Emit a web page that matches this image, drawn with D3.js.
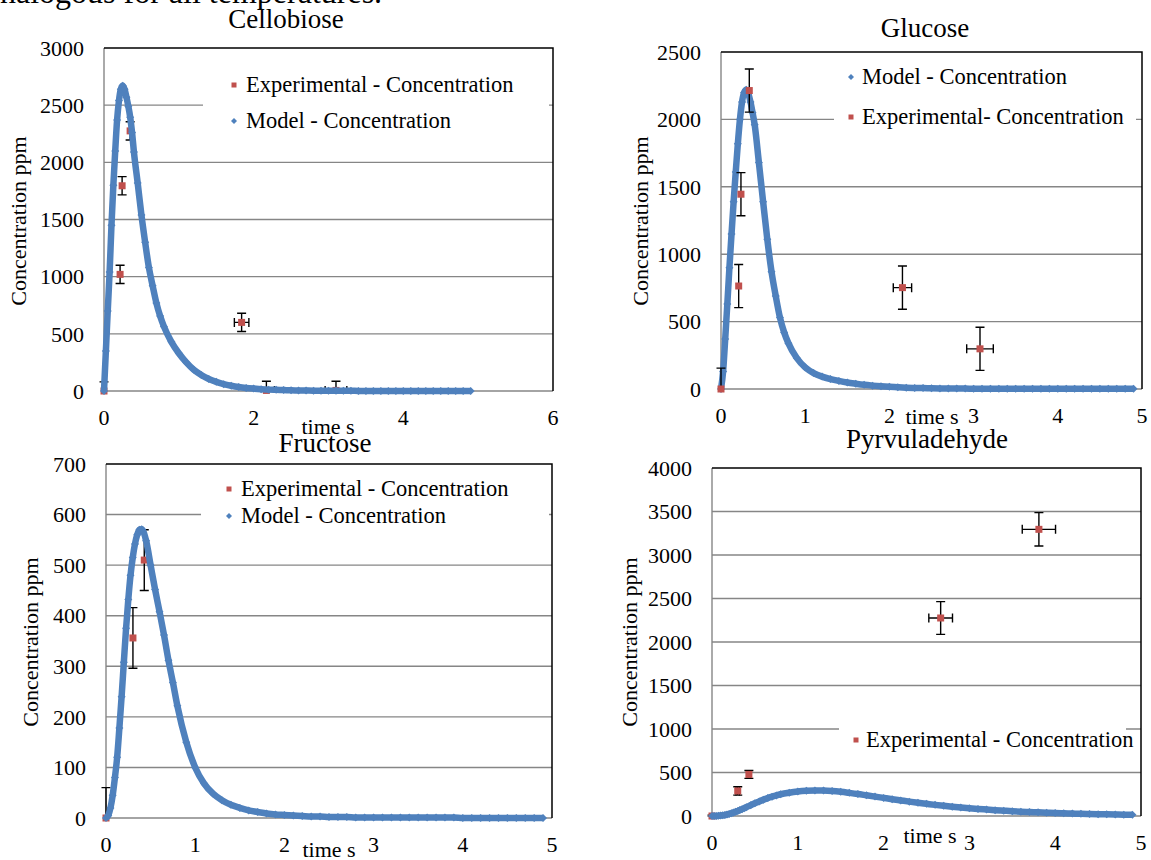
<!DOCTYPE html>
<html>
<head>
<meta charset="utf-8">
<script src="https://cdn.jsdelivr.net/npm/d3@7"></script>
<style>
  body { margin: 0; background: #fff; }
  svg { display: block; font-family: "Liberation Serif", "DejaVu Serif", "Times New Roman", serif; }
</style>
</head>
<body>
<svg width="1151" height="860"></svg>
<script>
// model output time grid (s), shared by all four species
const modelTime = [0, 0.025, 0.05, 0.075, 0.1, 0.125, 0.15, 0.175, 0.2, 0.225, 0.25, 0.275, 0.3, 0.325, 0.35, 0.375, 0.4,
  0.45, 0.5, 0.55, 0.6, 0.65, 0.7, 0.75, 0.8,
  0.9, 1.0, 1.1, 1.2, 1.3, 1.4, 1.5, 1.6, 1.7, 1.8, 1.9, 2.0, 2.1, 2.2, 2.3, 2.4, 2.5, 2.6, 2.7, 2.8, 2.9,
  3.0, 3.1, 3.2, 3.3, 3.4, 3.5, 3.6, 3.7, 3.8, 3.9, 4.0, 4.1, 4.2, 4.3, 4.4, 4.5, 4.6, 4.7, 4.8, 4.9];

const cellobioseModel = [0, 350, 700, 1040, 1450, 1800, 2100, 2370, 2540, 2640, 2670, 2640, 2570, 2490, 2395, 2260, 2090,
  1820, 1540, 1300, 1080, 920, 770, 655, 565,
  430, 330, 250, 185, 140, 105, 80, 60, 46, 35, 27, 21, 16, 12, 10, 8, 6, 5, 4, 3, 3,
  2, 2, 2, 2, 1, 1, 1, 1, 1, 1, 1, 1, 1, 1, 1, 1, 1, 1, 0, 0];
const glucoseModel = [0, 130, 370, 630, 900, 1150, 1390, 1610, 1820, 2000, 2130, 2200, 2220, 2190, 2130, 2050, 1960,
  1680, 1390, 1110, 870, 690, 530, 420, 340,
  230, 160, 118, 92, 74, 60, 48, 39, 31, 25, 20, 16, 13, 10, 8, 7, 5, 4, 4, 3, 3,
  2, 2, 2, 2, 1, 1, 1, 1, 1, 1, 1, 1, 1, 1, 1, 1, 1, 1, 1, 1];
const fructoseModel = [0, 5, 20, 45, 80, 120, 178, 240, 308, 375, 432, 480, 515, 542, 560, 570, 571,
  548, 500, 452, 408, 362, 312, 268, 222,
  150, 100, 68, 48, 35, 26, 20, 15, 12, 9, 7, 6, 5, 4, 3, 3, 2, 2, 2, 1, 1,
  1, 1, 1, 1, 1, 1, 1, 1, 1, 1, 0, 0, 0, 0, 0, 0, 0, 0, 0, 0];
const pyruvaldehydeModel = [0, 0, 1, 2, 5, 8, 12, 17, 24, 31, 39, 48, 58, 68, 79, 90, 101,
  124, 147, 168, 188, 206, 222, 237, 250,
  268, 281, 289, 293, 292, 287, 278, 266, 253, 238, 223, 208, 193, 179, 165, 152, 140, 128, 117, 107, 98,
  89, 81, 74, 67, 61, 55, 50, 46, 42, 38, 34, 31, 28, 25, 23, 21, 19, 17, 15, 14];

// experimental points with error bars
const cellobioseExpTime = [0, 0.215, 0.242, 0.349, 1.839, 2.17, 3.10];
const cellobioseExpConc = [0, 1020, 1795, 2275, 600, 5, 5];
const cellobioseExpTimeErr = [0, 0, 0, 0, 0.097, 0.107, 0.145];
const cellobioseExpConcErr = [80, 80, 80, 80, 80, 80, 80];

const glucoseExpTime = [0, 0.21, 0.237, 0.336, 2.155, 3.076];
const glucoseExpConc = [0, 764, 1445, 2214, 752, 298];
const glucoseExpTimeErr = [0, 0, 0, 0, 0.109, 0.158];
const glucoseExpConcErr = [155, 160, 160, 160, 160, 160];

const fructoseExpTime = [0, 0.302, 0.429];
const fructoseExpConc = [0, 356, 510];
const fructoseExpTimeErr = [0, 0, 0];
const fructoseExpConcErr = [60, 60, 60];

const pyruvaldehydeExpTime = [0, 0.30, 0.43, 2.665, 3.81];
const pyruvaldehydeExpConc = [0, 288, 478, 2276, 3295];
const pyruvaldehydeExpTimeErr = [0, 0.02, 0.02, 0.138, 0.194];
const pyruvaldehydeExpConcErr = [10, 48, 45, 188, 192];

// axis ticks
const cellobioseTicksX = [0, 2, 4, 6];
const cellobioseTicksY = [0, 500, 1000, 1500, 2000, 2500, 3000];
const glucoseTicksX = [0, 1, 2, 3, 4, 5];
const glucoseTicksY = [0, 500, 1000, 1500, 2000, 2500];
const fructoseTicksX = [0, 1, 2, 3, 4, 5];
const fructoseTicksY = [0, 100, 200, 300, 400, 500, 600, 700];
const pyruvaldehydeTicksX = [0, 1, 2, 3, 4, 5];
const pyruvaldehydeTicksY = [0, 500, 1000, 1500, 2000, 2500, 3000, 3500, 4000];

const expLabel = "Experimental - Concentration";
const expLabelGlucose = "Experimental- Concentration";
const modelLabel = "Model - Concentration";

const RED = "#c0504d", BLUE = "#4f81bd", GRID = "#868686";

const panels = [
  { id: "cel", title: "Cellobiose", model: cellobioseModel,
    exp: [cellobioseExpTime, cellobioseExpConc, cellobioseExpTimeErr, cellobioseExpConcErr],
    ticksX: cellobioseTicksX, ticksY: cellobioseTicksY,
    left: 104, right: 553, top: 48, bottom: 391,
    titleX: 286, titleY: 28, yTitleX: 18, yTitleY: 221, xTitleX: 328, xTitleY: 434,
    expOnTop: false,
    legend: { x: 203, y: 62, w: 346, h: 78, markerX: 234, textX: 246,
      items: [{ type: "exp", label: expLabel, y: 85 }, { type: "model", label: modelLabel, y: 121 }] } },
  { id: "glu", title: "Glucose", model: glucoseModel,
    exp: [glucoseExpTime, glucoseExpConc, glucoseExpTimeErr, glucoseExpConcErr],
    ticksX: glucoseTicksX, ticksY: glucoseTicksY,
    left: 721, right: 1142, top: 52, bottom: 389,
    titleX: 925, titleY: 37, yTitleX: 640, yTitleY: 221, xTitleX: 932, xTitleY: 424,
    expOnTop: true,
    legend: { x: 834, y: 58, w: 302, h: 80, markerX: 851, textX: 862,
      items: [{ type: "model", label: modelLabel, y: 77 }, { type: "exp", label: expLabelGlucose, y: 117 }] } },
  { id: "fru", title: "Fructose", model: fructoseModel,
    exp: [fructoseExpTime, fructoseExpConc, fructoseExpTimeErr, fructoseExpConcErr],
    ticksX: fructoseTicksX, ticksY: fructoseTicksY,
    left: 106, right: 552, top: 464, bottom: 818,
    titleX: 325, titleY: 452, yTitleX: 30, yTitleY: 642, xTitleX: 329, xTitleY: 857,
    expOnTop: false,
    legend: { x: 201, y: 472, w: 348, h: 58, markerX: 229, textX: 241,
      items: [{ type: "exp", label: expLabel, y: 489 }, { type: "model", label: modelLabel, y: 516 }] } },
  { id: "pyr", title: "Pyrvuladehyde", model: pyruvaldehydeModel,
    exp: [pyruvaldehydeExpTime, pyruvaldehydeExpConc, pyruvaldehydeExpTimeErr, pyruvaldehydeExpConcErr],
    ticksX: pyruvaldehydeTicksX, ticksY: pyruvaldehydeTicksY,
    left: 712, right: 1141, top: 468, bottom: 816,
    titleX: 927, titleY: 448, yTitleX: 629, yTitleY: 642, xTitleX: 930, xTitleY: 843,
    expOnTop: false,
    legend: { x: 839, y: 716, w: 287, h: 44, markerX: 856, textX: 866,
      items: [{ type: "exp", label: expLabel, y: 740 }] } }
];

const diamond = r => `M0,${-r}L${r},0L0,${r}L${-r},0Z`;

let svg = d3.select("svg");
let defs = svg.append("defs");

// cut-off line of body text above the figure
svg.append("text")
  .attr("x", 0).attr("y", 3)
  .attr("font-size", 32)
  .text("nalogous for all temperatures.");

panels.forEach(drawPanel);

function drawPanel(p) {
  let g = svg.append("g");
  let xMax = p.ticksX[p.ticksX.length - 1], yMax = p.ticksY[p.ticksY.length - 1];
  let x = d3.scaleLinear().domain([0, xMax]).range([p.left, p.right]);
  let y = d3.scaleLinear().domain([0, yMax]).range([p.bottom, p.top]);

  // error bars are cut at the bottom of the plot area, like in the spreadsheet
  defs.append("clipPath").attr("id", "clip-" + p.id)
    .append("rect")
    .attr("x", p.left - 12).attr("y", p.top)
    .attr("width", p.right - p.left + 24).attr("height", p.bottom - p.top + 0.7);

  g.selectAll("line.grid")
    .data(p.ticksY.filter(v => v < yMax))
    .enter().append("line")
    .attr("class", "grid")
    .attr("x1", p.left).attr("x2", p.right)
    .attr("y1", y).attr("y2", y)
    .attr("stroke", GRID).attr("stroke-width", 1.4);

  g.append("line")
    .attr("x1", p.left).attr("x2", p.left)
    .attr("y1", p.top).attr("y2", p.bottom)
    .attr("stroke", GRID).attr("stroke-width", 1.4);

  g.append("path")
    .attr("d", `M${p.left},${p.top}H${p.right}V${p.bottom}`)
    .attr("fill", "none").attr("stroke", "#000").attr("stroke-width", 1.5);

  g.selectAll("text.ytick")
    .data(p.ticksY)
    .enter().append("text")
    .attr("class", "ytick")
    .attr("x", p.left - 20).attr("y", y).attr("dy", "0.35em")
    .attr("text-anchor", "end").attr("font-size", 22)
    .text(d => d);

  g.selectAll("text.xtick")
    .data(p.ticksX)
    .enter().append("text")
    .attr("class", "xtick")
    .attr("x", x).attr("y", p.bottom + 34)
    .attr("text-anchor", "middle").attr("font-size", 22)
    .text(d => d);

  g.append("text")
    .attr("x", p.titleX).attr("y", p.titleY)
    .attr("text-anchor", "middle").attr("font-size", 27)
    .text(p.title);

  g.append("text")
    .attr("transform", `translate(${p.yTitleX},${p.yTitleY}) rotate(-90)`)
    .attr("dy", "0.35em")
    .attr("text-anchor", "middle").attr("font-size", 22)
    .text("Concentration ppm");

  g.append("text")
    .attr("x", p.xTitleX).attr("y", p.xTitleY)
    .attr("text-anchor", "middle").attr("font-size", 22)
    .text("time s");

  if (p.expOnTop) {
    drawModel(g, p, x, y);
    drawExp(g, p, x, y);
  } else {
    drawExp(g, p, x, y);
    drawModel(g, p, x, y);
  }

  drawLegend(g, p.legend);
}

function drawModel(g, p, x, y) {
  let pts = d3.zip(modelTime, p.model);
  let line = d3.line()
    .x(d => x(d[0]))
    .y(d => y(d[1]))
    .curve(d3.curveMonotoneX);

  g.append("path")
    .datum(pts)
    .attr("d", line)
    .attr("fill", "none")
    .attr("stroke", BLUE)
    .attr("stroke-width", 6.5)
    .attr("stroke-linejoin", "round");

  g.selectAll("path.model")
    .data(pts)
    .enter().append("path")
    .attr("class", "model")
    .attr("transform", d => `translate(${x(d[0])},${y(d[1])})`)
    .attr("d", diamond(4))
    .attr("fill", BLUE);
}

function drawExp(g, p, x, y) {
  let [t, c, te, ce] = p.exp;
  let pts = d3.range(t.length).map(i => ({ t: t[i], c: c[i], te: te[i], ce: ce[i] }));
  let cap = 4.5;

  let bars = g.append("g")
    .attr("clip-path", `url(#clip-${p.id})`)
    .selectAll("g.err")
    .data(pts)
    .enter().append("g")
    .attr("class", "err")
    .attr("stroke", "#000")
    .attr("stroke-width", 1.4)
    .attr("fill", "none");

  bars.append("path")
    .attr("d", d => {
      let cx = x(d.t), y0 = y(d.c - d.ce), y1 = y(d.c + d.ce);
      return `M${cx},${y0}V${y1}M${cx - cap},${y0}H${cx + cap}M${cx - cap},${y1}H${cx + cap}`;
    });

  bars.filter(d => d.te > 0).append("path")
    .attr("d", d => {
      let cy = y(d.c), x0 = x(d.t - d.te), x1 = x(d.t + d.te);
      return `M${x0},${cy}H${x1}M${x0},${cy - cap}V${cy + cap}M${x1},${cy - cap}V${cy + cap}`;
    });

  g.selectAll("rect.exp")
    .data(pts)
    .enter().append("rect")
    .attr("class", "exp")
    .attr("x", d => x(d.t) - 3.5).attr("y", d => y(d.c) - 3.5)
    .attr("width", 7).attr("height", 7)
    .attr("fill", RED);
}

function drawLegend(g, lg) {
  g.append("rect")
    .attr("x", lg.x).attr("y", lg.y)
    .attr("width", lg.w).attr("height", lg.h)
    .attr("fill", "#fff");

  let item = g.selectAll("g.legend")
    .data(lg.items)
    .enter().append("g")
    .attr("class", "legend")
    .attr("transform", d => `translate(0,${d.y})`);

  item.filter(d => d.type === "exp").append("rect")
    .attr("x", lg.markerX - 2.5).attr("y", -2.5)
    .attr("width", 5).attr("height", 5)
    .attr("fill", RED);

  item.filter(d => d.type === "model").append("path")
    .attr("transform", `translate(${lg.markerX},0)`)
    .attr("d", diamond(3))
    .attr("fill", BLUE);

  item.append("text")
    .attr("x", lg.textX).attr("dy", "0.33em")
    .attr("font-size", 22.5)
    .text(d => d.label);
}
</script>
</body>
</html>
